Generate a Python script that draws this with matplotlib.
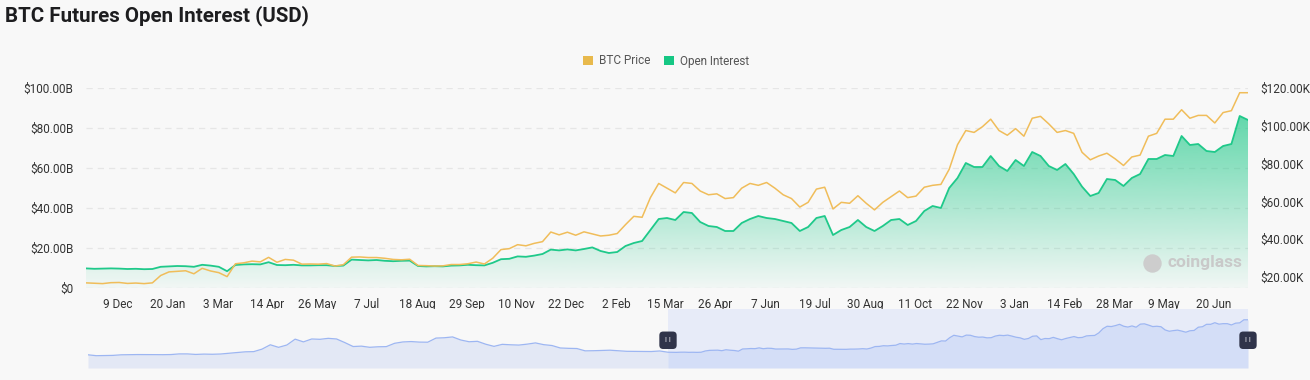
import numpy as np
import pandas as pd
import matplotlib
matplotlib.use('Agg')
import matplotlib.pyplot as plt
import matplotlib.dates as mdates
from matplotlib.colors import ListedColormap, to_rgb
from matplotlib.patches import Patch

plt.rcParams['font.family'] = ['Roboto', 'DejaVu Sans']

# weekly samples shown in the main window, 2022-11-12 .. 2025-07-19
dates = pd.date_range('2022-11-12', '2025-07-19', freq='7D')

# open interest, $B
oi = [
    9.8, 9.6, 9.7, 9.8, 9.7, 9.5, 9.6, 9.4,
    # 2023
    9.5, 10.6, 10.8, 11.0, 10.9, 10.6, 11.6, 11.2, 10.6, 8.4, 11.5, 11.8, 11.9,
    11.8, 12.9, 11.5, 11.4, 11.6, 11.3, 11.3, 11.4, 11.4, 11.0, 11.2, 14.2, 14.0,
    13.8, 14.0, 13.6, 13.4, 13.6, 13.7, 11.0, 10.8, 10.9, 10.8, 11.2, 11.3, 11.6,
    11.4, 11.3, 12.6, 14.4, 14.6, 15.8, 15.6, 16.2, 17.0, 19.2, 18.8, 19.3, 18.8,
    # 2024
    19.5, 20.3, 18.5, 17.5, 18.0, 21.0, 22.5, 23.5, 29.0, 34.5, 35.0, 34.0, 38.0,
    37.5, 33.0, 31.0, 30.5, 28.5, 28.5, 32.5, 34.5, 36.0, 35.0, 34.5, 33.5, 32.5,
    28.5, 30.5, 35.0, 36.0, 26.5, 29.0, 30.5, 34.0, 30.5, 28.5, 31.0, 34.0, 34.5,
    31.5, 33.5, 38.5, 41.0, 40.0, 50.0, 55.0, 62.5, 60.5, 60.5, 66.0, 61.0, 58.5,
    # 2025
    64.0, 61.0, 68.0, 66.0, 61.0, 59.0, 62.0, 57.0, 50.7, 46.0, 47.5, 54.5, 54.0,
    51.0, 55.0, 57.0, 64.5, 64.5, 66.5, 66.0, 76.0, 71.5, 72.0, 68.5, 68.0, 71.0,
    72.0, 86.0, 84.0,
]

# BTC price, $K
price = [
    16.9, 16.7, 16.5, 17.0, 17.1, 16.6, 16.8, 16.5,
    # 2023
    16.9, 20.8, 22.7, 23.0, 23.3, 21.7, 24.6, 23.2, 22.3, 20.2, 27.0, 27.5, 28.4,
    28.0, 30.4, 27.8, 29.3, 28.9, 26.8, 26.9, 26.8, 27.1, 25.8, 26.5, 30.5, 30.6,
    30.3, 30.3, 29.9, 29.3, 29.1, 29.4, 26.1, 26.0, 25.8, 25.9, 26.6, 26.6, 27.0,
    27.9, 26.9, 29.9, 34.5, 35.0, 37.1, 36.5, 37.8, 38.7, 43.8, 42.3, 43.7, 42.1,
    # 2024
    43.9, 42.8, 41.7, 42.1, 43.0, 47.7, 52.1, 51.6, 62.0, 69.5, 67.0, 64.5, 70.0,
    69.5, 65.5, 63.5, 64.0, 61.5, 62.0, 67.0, 69.5, 68.5, 70.0, 67.0, 63.5, 61.5,
    57.0, 59.5, 66.5, 67.5, 56.0, 59.5, 59.0, 63.0, 59.0, 55.5, 59.5, 62.5, 65.5,
    62.0, 62.8, 67.5, 68.5, 69.0, 77.0, 90.0, 97.5, 96.5, 99.5, 103.5, 97.5, 95.0,
    # 2025
    98.5, 94.5, 104.0, 105.0, 101.0, 96.5, 97.5, 96.0, 86.0, 82.0, 84.0, 85.5, 82.5,
    79.0, 83.5, 84.5, 94.5, 96.0, 103.5, 103.5, 108.5, 104.0, 105.5, 105.5, 101.5,
    107.0, 108.0, 117.5, 117.5,
]

# navigator history before the visible window, every two weeks, $K
early_dates = pd.date_range('2020-03-07', '2022-10-29', freq='14D')
early_price = [
    8.9, 6.2, 6.8, 7.1, 8.9, 9.4, 9.7, 9.5, 9.0, 9.3, 9.7, 11.7, 11.7, 10.1, 11.1,
    10.6, 11.4, 13.8, 16.0, 18.2, 18.8, 26.5,
    40.0, 32.1, 39.3, 57.5, 49.0, 58.0, 57.0, 60.0, 58.0, 46.8, 34.6, 35.8, 32.2,
    33.8, 34.3, 44.6, 48.8, 50.0, 48.3, 48.0, 60.8, 61.8, 64.4, 54.8, 49.4, 50.8,
    41.8, 35.1, 41.4, 40.0, 39.1, 42.0, 45.8, 40.4, 37.7, 30.1, 29.0, 28.4, 21.2,
    21.6, 22.5, 23.2, 21.5, 19.8, 19.4, 19.3, 19.1, 20.8,
]

tick_dates = pd.date_range('2022-12-09', periods=23, freq='42D')
tick_labels = ['9 Dec', '20 Jan', '3 Mar', '14 Apr', '26 May', '7 Jul', '18 Aug',
               '29 Sep', '10 Nov', '22 Dec', '2 Feb', '15 Mar', '26 Apr', '7 Jun',
               '19 Jul', '30 Aug', '11 Oct', '22 Nov', '3 Jan', '14 Feb', '28 Mar',
               '9 May', '20 Jun']
left_ticks = [0, 20, 40, 60, 80, 100]
left_labels = ['$0', '$20.00B', '$40.00B', '$60.00B', '$80.00B', '$100.00B']
right_ticks = [20, 40, 60, 80, 100, 120]
right_labels = ['$20.00K', '$40.00K', '$60.00K', '$80.00K', '$100.00K', '$120.00K']

bg = '#f8f8f8'
green = '#16c784'
gold = '#f0bd5a'
W, H = 1310, 380

fig = plt.figure(figsize=(W / 100, H / 100), dpi=100, facecolor=bg)

ax = fig.add_axes([86 / W, 1 - 288 / H, 1162 / W, 200 / H])
ax.set_facecolor(bg)
ax2 = ax.twinx()

x_num = mdates.date2num(dates)

# open interest area with vertical gradient
fill = ax.fill_between(x_num, oi, 0, facecolor='none', edgecolor='none')
grad = np.zeros((256, 4))
grad[:, :3] = to_rgb(green)
grad[:, 3] = np.linspace(0.03, 0.66, 256)
img = ax.imshow(np.linspace(0, 1, 256).reshape(-1, 1), cmap=ListedColormap(grad),
                extent=[x_num[0], x_num[-1], 0, max(oi)], origin='lower',
                aspect='auto', zorder=1, interpolation='bicubic')
img.set_clip_path(fill.get_paths()[0], transform=ax.transData)
ax.plot(x_num, oi, color='#1fc98a', lw=1.3, zorder=3)

ax2.plot(x_num, price, color=gold, lw=1.1, zorder=3)

ax.set_xlim(x_num[0], x_num[-1])
ax.set_ylim(0, 100)
ax2.set_ylim(14.18, 120.0)

ax.set_yticks(left_ticks)
ax.set_yticklabels(left_labels)
ax2.set_yticks(right_ticks)
ax2.set_yticklabels(right_labels)
ax.set_xticks(mdates.date2num(tick_dates))
ax.set_xticklabels(tick_labels)

ax.grid(axis='y', color='#e6e6e6', linestyle=(0, (5, 4)), lw=0.9)
ax.set_axisbelow(True)
for a in (ax, ax2):
    for s in a.spines.values():
        s.set_visible(False)
    a.tick_params(length=0, labelsize=8.5, labelcolor='#333333')
ax.tick_params(axis='y', pad=9)
ax.tick_params(axis='x', pad=7)
ax2.tick_params(axis='y', pad=9)

# watermark
ax.text(0.995, 0.125, 'coinglass', transform=ax.transAxes, ha='right', va='center',
        fontsize=12.5, fontweight='bold', color='#c9c9c9', zorder=2)
ax.scatter([0.917], [0.125], transform=ax.transAxes, s=150, marker='o',
           color='#cdcdcd', zorder=2)

fig.text(5 / W, 1 - 16 / H, 'BTC Futures Open Interest (USD)', fontsize=14.8,
         fontweight='bold', color='#1d1d1f', va='center', ha='left')

handles = [Patch(facecolor='#e8b94c', edgecolor='none', label='BTC Price'),
           Patch(facecolor=green, edgecolor='none', label='Open Interest')]
fig.legend(handles=handles, loc='center', bbox_to_anchor=(666 / W, 1 - 61 / H),
           ncol=2, frameon=False, fontsize=8.5, labelcolor='#555555',
           handlelength=0.85, handleheight=0.85, handletextpad=0.5,
           columnspacing=1.2)

# navigator (data zoom) with full price history
nav = fig.add_axes([88 / W, 12 / H, 1160 / W, 59 / H])
nav.set_facecolor(bg)
nav_x = np.concatenate([mdates.date2num(early_dates), x_num])
nav_y = np.array(early_price + price)
nav.set_xlim(nav_x[0], nav_x[-1])
nav.set_ylim(-32, 151)
nav.axvspan(x_num[0], x_num[-1], color='#e7ebf8', lw=0, zorder=0)
sel = nav_x >= x_num[0]
unsel = nav_x <= x_num[0]
nav.fill_between(nav_x[unsel], nav_y[unsel], -32, color='#e3e8f5', lw=0, zorder=1)
nav.fill_between(nav_x[sel], nav_y[sel], -32, color='#d4def7', lw=0, zorder=1)
nav.plot(nav_x, nav_y, color='#9db6f2', lw=0.9, zorder=2)
for xh in (x_num[0], x_num[-1]):
    nav.text(xh, 0.47, 'I I', transform=nav.get_xaxis_transform(), ha='center',
             va='center', fontsize=5.5, color='#e8e8ee', zorder=5, clip_on=False,
             bbox=dict(boxstyle='round,pad=0.75,rounding_size=0.5', fc='#30344a',
                       ec='none'))
nav.set_xticks([])
nav.set_yticks([])
for s in nav.spines.values():
    s.set_visible(False)

fig.savefig('out.png', dpi=100, facecolor=bg)
